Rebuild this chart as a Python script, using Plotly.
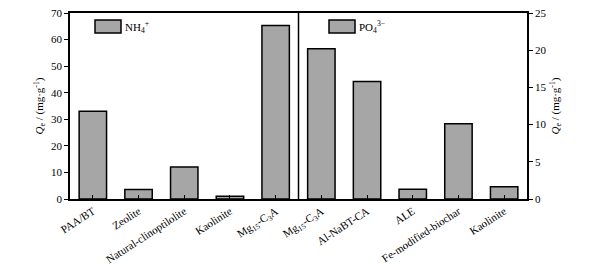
import plotly.graph_objects as go

nh4_categories = ["PAA/BT", "Zeolite", "Natural-clinoptilolite", "Kaolinite", "Mg<sub>15</sub>-C<sub>3</sub>A"]
nh4_values = [33.0, 3.6, 12.0, 1.0, 65.3]
po4_categories = ["Mg<sub>15</sub>-C<sub>3</sub>A", "Al-NaBT-CA", "ALE", "Fe-modified-biochar", "Kaolinite"]
po4_values = [20.2, 15.8, 1.3, 10.1, 1.65]
left_ticks = [0, 10, 20, 30, 40, 50, 60, 70]
right_ticks = [0, 5, 10, 15, 20, 25]

all_labels = nh4_categories + po4_categories
nh4_x = list(range(len(nh4_categories)))
po4_x = [len(nh4_categories) + i for i in range(len(po4_categories))]

FONT = "Liberation Serif"
fill = "#a6a6a6"

fig = go.Figure()
fig.add_trace(go.Bar(x=nh4_x, y=nh4_values, yaxis="y", width=0.6,
                     marker=dict(color=fill, line=dict(color="black", width=1.5)),
                     name="NH4+", showlegend=False))
fig.add_trace(go.Bar(x=po4_x, y=po4_values, yaxis="y2", width=0.6,
                     marker=dict(color=fill, line=dict(color="black", width=1.5)),
                     name="PO4 3-", showlegend=False))

ytitle = "<i>Q</i><sub>e</sub> / (mg·g<sup>-1</sup>)"
fig.update_layout(
    width=590, height=265,
    margin=dict(l=70, r=63, t=13, b=66),
    paper_bgcolor="white", plot_bgcolor="white",
    font=dict(family=FONT, size=11, color="black"),
    barmode="overlay",
    xaxis=dict(range=[-0.5, len(all_labels) - 0.5], tickvals=list(range(len(all_labels))),
               ticktext=all_labels, tickangle=-33, ticks="inside", ticklen=4,
               tickcolor="black", showline=True, linecolor="black", linewidth=1.5,
               mirror=True, showgrid=False, zeroline=False, automargin=False,
               tickfont=dict(family=FONT, size=11)),
    yaxis=dict(range=[0, 70], tickvals=left_ticks, ticks="outside", ticklen=4,
               tickcolor="black", showline=True, linecolor="black", linewidth=1.5,
               showgrid=False, zeroline=False, automargin=False,
               tickfont=dict(family=FONT, size=11),
               title=dict(text=ytitle, standoff=5, font=dict(family=FONT, size=11))),
    yaxis2=dict(range=[0, 25], tickvals=right_ticks, overlaying="y", side="right",
                ticks="outside", ticklen=4, tickcolor="black", showline=True,
                linecolor="black", linewidth=1.5, showgrid=False, zeroline=False,
                automargin=False, tickfont=dict(family=FONT, size=11),
                title=dict(text=ytitle, standoff=6, font=dict(family=FONT, size=11))),
)

# divider between the two groups
fig.add_shape(type="line", xref="x", yref="paper", x0=len(nh4_categories) - 0.5,
              x1=len(nh4_categories) - 0.5, y0=0, y1=1, line=dict(color="black", width=1.5))

# legend swatches
W, H = 590 - 70 - 63, 265 - 13 - 66
def px(xp): return (xp - 70) / W
def py(yp): return 1 - (yp - 13) / H

for (x0, label) in [(95, "NH<sub>4</sub><sup>+</sup>"), (329, "PO<sub>4</sub><sup>3−</sup>")]:
    fig.add_shape(type="rect", xref="paper", yref="paper", x0=px(x0), x1=px(x0 + 26),
                  y0=py(33), y1=py(20), fillcolor=fill, line=dict(color="black", width=1.5))
    fig.add_annotation(xref="paper", yref="paper", x=px(x0 + 28), y=py(26.5), text=label,
                       showarrow=False, xanchor="left", yanchor="middle",
                       font=dict(family=FONT, size=11))

fig.write_html("out.html", config={"displayModeBar": False},
               post_script="document.body.style.margin='0';document.body.style.padding='0';")
